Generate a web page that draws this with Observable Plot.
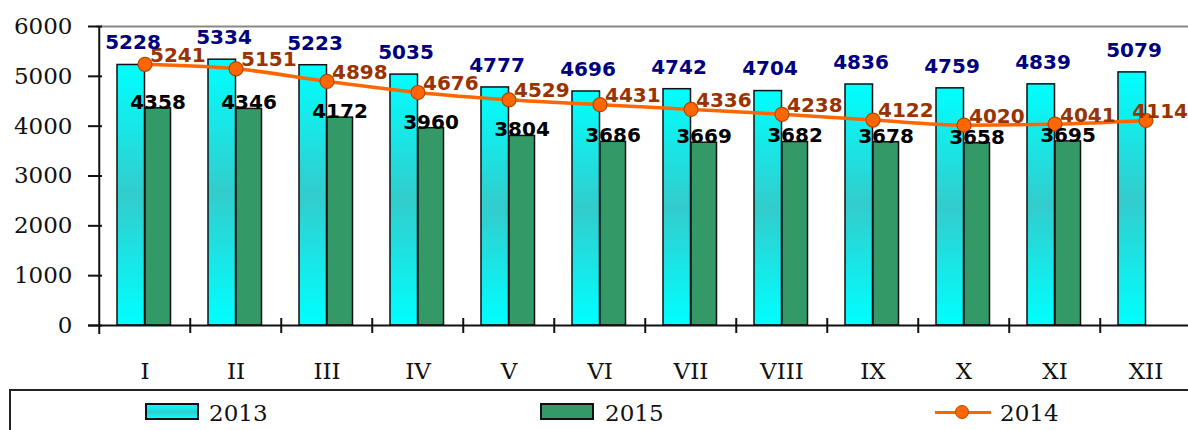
<!DOCTYPE html>
<html><head><meta charset="utf-8">
<script src="https://cdn.jsdelivr.net/npm/d3@7"></script>
<script src="https://cdn.jsdelivr.net/npm/@observablehq/plot@0.6"></script>
<style>
body{margin:0;background:#fff;overflow:hidden;width:1188px;height:430px;position:relative}
#chart svg{display:block}
.box{position:absolute;left:9px;top:389px;width:1200px;height:60px;border-top:2px solid #222;border-left:2px solid #222}
.lg{position:absolute;font-family:"DejaVu Serif";font-size:23px;line-height:23px;color:#111;top:402px}
.sw{position:absolute;box-sizing:border-box;width:54px;height:17px;border:2px solid #111;top:403px}
</style></head><body>
<div id="chart"></div>
<div class="box"></div>
<div class="sw" style="left:145px;background:linear-gradient(#00FFFF,#33CCCC 55%,#00FFFF)"></div>
<div class="lg" style="left:209px">2013</div>
<div class="sw" style="left:540px;background:#339966"></div>
<div class="lg" style="left:605px">2015</div>
<div style="position:absolute;left:935px;top:411px;width:56px;height:3px;background:#FF6600"></div>
<div style="position:absolute;left:955px;top:405px;width:14px;height:14px;box-sizing:border-box;border-radius:50%;background:#FF6600;border:1px solid #B34700"></div>
<div class="lg" style="left:1000px">2014</div>
<script>
const months = ["I","II","III","IV","V","VI","VII","VIII","IX","X","XI","XII"];
const v2013 = [5228,5334,5223,5035,4777,4696,4742,4704,4836,4759,4839,5079];
const v2014 = [5241,5151,4898,4676,4529,4431,4336,4238,4122,4020,4041,4114];
const v2015 = [4358,4346,4172,3960,3804,3686,3669,3682,3678,3658,3695,null];
const yTicks = [0,1000,2000,3000,4000,5000,6000];

const rows = (vals) => months.map((m, i) => ({m, v: vals[i]})).filter(d => d.v != null);
const d2013 = rows(v2013), d2014 = rows(v2014), d2015 = rows(v2015);

const defs = () => {
  const g = d3.create("svg:defs");
  const lg = g.append("linearGradient").attr("id", "cyanGrad")
    .attr("x1", 0).attr("y1", 0).attr("x2", 0).attr("y2", 1);
  lg.append("stop").attr("offset", "0").attr("stop-color", "#00FFFF");
  lg.append("stop").attr("offset", "0.5").attr("stop-color", "#33CCCC");
  lg.append("stop").attr("offset", "1").attr("stop-color", "#00FFFF");
  return g.node();
};

const half = 1098 / 12 / 2;
const lbl = {fontWeight: "bold", fontSize: 20, fontFamily: "DejaVu Sans"};
const t = d => String(d.v);

const chart = Plot.plot({
  width: 1188, height: 389,
  marginLeft: 96, marginRight: -6, marginTop: 26, marginBottom: 64,
  x: {domain: months, range: [96, 1194], padding: 0},
  y: {domain: [0, 6000]},
  style: {fontFamily: "DejaVu Serif", fontSize: "23px", color: "#111", background: "#fff"},
  marks: [
    defs,
    Plot.ruleY([6000], {stroke: "#888", strokeWidth: 2}),
    Plot.barY(d2013, {x: "m", y: "v", fill: "url(#cyanGrad)", stroke: "#111", strokeWidth: 1.5, insetLeft: 18, insetRight: 45.5}),
    Plot.barY(d2015, {x: "m", y: "v", fill: "#339966", stroke: "#111", strokeWidth: 1.5, insetLeft: 46, insetRight: 19.5}),
    Plot.ruleY([0], {stroke: "#111", strokeWidth: 2, insetLeft: -8}),
    Plot.ruleX(["I"], {x: d => d, dx: -half, y1: -180, y2: 6000, stroke: "#111", strokeWidth: 2}),
    Plot.ruleX(months.slice(1), {x: d => d, dx: -half, y1: -160, y2: 140, stroke: "#111", strokeWidth: 2}),
    Plot.axisY(yTicks, {tickSize: 14, dx: 6, tickPadding: 16, strokeWidth: 2, fontSize: 23, label: null, tickFormat: d => String(d)}),
    Plot.axisX({tickSize: 0, tickPadding: 37, fontSize: 23, label: null}),
    Plot.line(d2014, {x: "m", y: "v", curve: "monotone-x", stroke: "#FF6600", strokeWidth: 3.5}),
    Plot.dot(d2014, {x: "m", y: "v", r: 7, fill: "#FF6600", stroke: "#B34700", strokeWidth: 1.2}),
    Plot.text(d2015, {x: "m", y: "v", text: t, dx: 13, dy: -6, fill: "#000", ...lbl}),
    Plot.text(d2014.slice(0, -1), {x: "m", y: "v", text: t, textAnchor: "start", dx: 5, dy: -9, fill: "#993300", ...lbl}),
    Plot.text(d2014.slice(-1), {x: "m", y: "v", text: t, textAnchor: "end", dx: 42, dy: -9, fill: "#993300", ...lbl}),
    Plot.text(d2013, {x: "m", y: "v", text: t, dx: -12, dy: -22, fill: "#000080", ...lbl})
  ]
});
document.getElementById("chart").append(chart);
</script>
</body></html>
